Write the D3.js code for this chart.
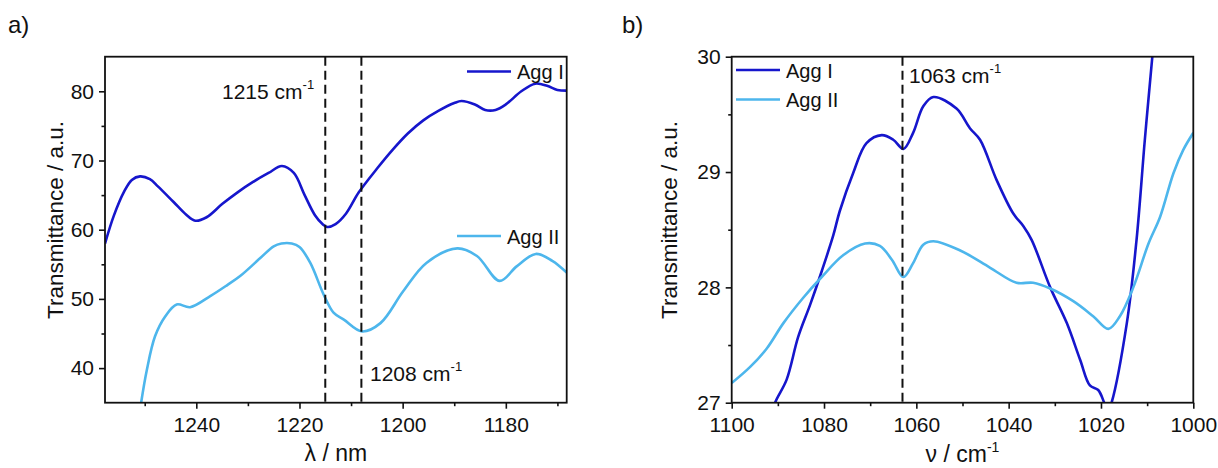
<!DOCTYPE html>
<html>
<head>
<meta charset="utf-8">
<script src="https://cdn.jsdelivr.net/npm/d3@7"></script>
<style>
  body { margin: 0; background: #fff; }
  text { font-family: Arial, "Liberation Sans", sans-serif; fill: #111; }
</style>
</head>
<body>
<div id="root"></div>
<script>
// ---- panel a: NIR, wavelength (nm) ----
var wlAggI = [1257.7, 1256, 1254, 1252.5, 1250.9, 1249, 1247.5, 1244.4, 1242, 1240.2, 1238, 1235, 1232, 1229, 1226, 1223.4, 1221.1, 1219, 1217, 1215.5, 1214.6, 1213, 1211, 1208.5, 1205, 1202, 1199, 1196, 1193, 1190, 1188.6, 1186, 1184, 1182, 1180, 1177, 1174.3, 1172, 1170, 1168.2];
var tAggI_a = [58.0, 62.0, 65.5, 67.2, 67.7, 67.3, 66.3, 64.0, 62.2, 61.3, 61.8, 63.7, 65.4, 66.9, 68.2, 69.2, 68.2, 65.0, 62.1, 60.8, 60.4, 60.8, 62.3, 65.4, 68.8, 71.5, 73.9, 75.8, 77.2, 78.3, 78.6, 78.1, 77.3, 77.3, 78.1, 80.0, 81.1, 80.8, 80.2, 80.1];

var wlAggII = [1250.7, 1249.6, 1248.0, 1246.0, 1243.8, 1241.2, 1237.3, 1234, 1231.5, 1227.6, 1225.0, 1223.5, 1221.5, 1220, 1217.9, 1215.3, 1213.4, 1211.4, 1207.9, 1204.3, 1199.9, 1195.4, 1189.4, 1185.6, 1181.2, 1177.9, 1174.2, 1171, 1168.2];
var tAggII_a = [35, 39.7, 44.6, 47.5, 49.2, 48.8, 50.4, 52.0, 53.3, 55.9, 57.6, 58.0, 58.0, 57.5, 55.2, 50.6, 48.0, 47.0, 45.3, 46.5, 51.1, 55.2, 57.3, 56.2, 52.6, 54.7, 56.5, 55.5, 53.8];

var xTicksA = [1240, 1220, 1200, 1180];
var xMinorA = [1250, 1230, 1210, 1190, 1170];
var yTicksA = [40, 50, 60, 70, 80];
var yMinorA = [45, 55, 65, 75];
var marksA = [1215, 1208];

// ---- panel b: IR, wavenumber (cm-1) ----
var nuAggI = [1091.2, 1090.6, 1088.1, 1085.6, 1083.0, 1080.5, 1078.0, 1076.6, 1073.7, 1070.8, 1067.5, 1065.0, 1062.8, 1060.7, 1058.5, 1056.3, 1051.3, 1048.4, 1046.2, 1042.6, 1039.0, 1036.8, 1035.0, 1031.0, 1027.4, 1024.5, 1022.4, 1020.6, 1019.3, 1018.5, 1017.7, 1014.4, 1012.3, 1010.5, 1008.9, 1008.2];
var tAggI_b = [26.9, 27.0, 27.2, 27.57, 27.85, 28.14, 28.45, 28.66, 28.99, 29.25, 29.32, 29.28, 29.20, 29.34, 29.57, 29.65, 29.55, 29.38, 29.28, 28.93, 28.64, 28.53, 28.41, 28.0, 27.69, 27.37, 27.15, 27.11, 27.0, 26.92, 27.0, 27.69, 28.41, 29.28, 29.99, 30.3];

var nuAggII = [1100, 1096.0, 1092.4, 1088.8, 1084.5, 1080.5, 1075.8, 1071.1, 1067.9, 1065.3, 1062.8, 1060.7, 1058.5, 1056.3, 1050.5, 1044.0, 1038.3, 1034.7, 1031.0, 1026.0, 1021.7, 1018.4, 1015.9, 1013.0, 1009.7, 1007.2, 1004.3, 1002.2, 1000];
var tAggII_b = [27.17, 27.31, 27.47, 27.69, 27.91, 28.09, 28.28, 28.38, 28.36, 28.24, 28.09, 28.21, 28.37, 28.40, 28.32, 28.17, 28.04, 28.04, 27.99, 27.88, 27.75, 27.64, 27.75, 28.0, 28.38, 28.61, 28.99, 29.19, 29.34];

var xTicksB = [1100, 1080, 1060, 1040, 1020, 1000];
var xMinorB = [1090, 1070, 1050, 1030, 1010];
var yTicksB = [27, 28, 29, 30];
var yMinorB = [27.5, 28.5, 29.5];
var marksB = [1063];

var colI = "#1616cc", colII = "#4db6ec";

var svg = d3.select("#root").append("svg")
  .attr("width", 1218).attr("height", 468);

function panel(o) {
  var x = d3.scaleLinear().domain(o.xDom).range([o.left, o.right]);
  var y = d3.scaleLinear().domain(o.yDom).range([o.bottom, o.top]);
  var g = svg.append("g");

  g.append("clipPath").attr("id", o.id)
    .append("rect").attr("x", o.left).attr("y", o.top)
    .attr("width", o.right - o.left).attr("height", o.bottom - o.top);

  var line = d3.line().curve(d3.curveCatmullRom.alpha(0.5))
    .x(d => x(d[0])).y(d => y(d[1]));

  o.series.forEach(function(s) {
    g.append("path").datum(d3.zip(s.x, s.y))
      .attr("clip-path", "url(#" + o.id + ")")
      .attr("fill", "none").attr("stroke", s.color)
      .attr("stroke-width", 2.6).attr("stroke-linejoin", "round")
      .attr("d", line);
  });

  o.marks.forEach(function(m) {
    g.append("line")
      .attr("x1", x(m)).attr("x2", x(m))
      .attr("y1", o.top).attr("y2", o.bottom)
      .attr("stroke", "#111").attr("stroke-width", 2)
      .attr("stroke-dasharray", "9,5");
  });

  // axes
  var fmt = d3.format("d");
  g.append("g").attr("transform", "translate(0," + o.bottom + ")")
    .call(d3.axisBottom(x).tickValues(o.xTicks).tickFormat(fmt).tickSize(6).tickSizeOuter(0).tickPadding(8));
  g.append("g").attr("transform", "translate(0," + o.bottom + ")")
    .call(d3.axisBottom(x).tickValues(o.xMinor).tickSize(3.5).tickSizeOuter(0).tickFormat(""));
  g.append("g").attr("transform", "translate(" + o.left + ",0)")
    .call(d3.axisLeft(y).tickValues(o.yTicks).tickFormat(fmt).tickSize(6).tickSizeOuter(0).tickPadding(5));
  g.append("g").attr("transform", "translate(" + o.left + ",0)")
    .call(d3.axisLeft(y).tickValues(o.yMinor).tickSize(3.5).tickSizeOuter(0).tickFormat(""));

  g.selectAll(".domain").remove();
  g.selectAll(".tick line").attr("stroke", "#111").attr("stroke-width", 1.6);
  g.selectAll(".tick text").attr("font-size", 21).attr("fill", "#111")
    .style("font-family", "Arial, 'Liberation Sans', sans-serif");

  g.append("rect").attr("x", o.left).attr("y", o.top)
    .attr("width", o.right - o.left).attr("height", o.bottom - o.top)
    .attr("fill", "none").attr("stroke", "#111").attr("stroke-width", 1.8);

  // titles
  g.append("text").attr("transform", "translate(" + o.yTitleX + ",220) rotate(-90)")
    .attr("text-anchor", "middle").attr("font-size", 22.5).text("Transmittance / a.u.");
  var xt = g.append("text").attr("x", (o.left + o.right) / 2).attr("y", o.xTitleY)
    .attr("text-anchor", "middle").attr("font-size", 23);
  xt.append("tspan").text(o.xTitle);
  if (o.xTitleSup) xt.append("tspan").attr("font-size", 14).attr("dy", -10).text(o.xTitleSup);

  g.append("text").attr("x", o.tagX).attr("y", 33).attr("font-size", 24).text(o.tag);

  // annotations
  o.notes.forEach(function(n) {
    var t = g.append("text").attr("x", n.x).attr("y", n.y).attr("font-size", 21);
    t.append("tspan").text(n.text + " cm");
    t.append("tspan").attr("font-size", 13).attr("dy", -10).text("-1");
  });

  // legend
  o.legend.forEach(function(l) {
    g.append("line").attr("x1", l.x).attr("x2", l.x + 44)
      .attr("y1", l.y).attr("y2", l.y)
      .attr("stroke", l.color).attr("stroke-width", 2.6);
    g.append("text").attr("x", l.x + 50).attr("y", l.y + 7.5)
      .attr("font-size", 20).text(l.label);
  });
}

panel({
  id: "clipA", left: 105, right: 566.7, top: 56.7, bottom: 402.7,
  xDom: [1257.7, 1168.2], yDom: [35, 85],
  xTicks: xTicksA, xMinor: xMinorA, yTicks: yTicksA, yMinor: yMinorA,
  series: [
    { x: wlAggI, y: tAggI_a, color: colI },
    { x: wlAggII, y: tAggII_a, color: colII }
  ],
  marks: marksA,
  yTitleX: 63, xTitleY: 461, xTitle: "\u03bb / nm",
  tag: "a)", tagX: 8,
  notes: [
    { text: "1215", x: 222, y: 99 },
    { text: "1208", x: 370, y: 381 }
  ],
  legend: [
    { label: "Agg I", x: 467, y: 71.5, color: colI },
    { label: "Agg II", x: 457, y: 236, color: colII }
  ]
});

panel({
  id: "clipB", left: 731.7, right: 1193.3, top: 56.7, bottom: 402.7,
  xDom: [1100, 1000], yDom: [27, 30],
  xTicks: xTicksB, xMinor: xMinorB, yTicks: yTicksB, yMinor: yMinorB,
  series: [
    { x: nuAggI, y: tAggI_b, color: colI },
    { x: nuAggII, y: tAggII_b, color: colII }
  ],
  marks: marksB,
  yTitleX: 677, xTitleY: 462, xTitle: "\u03bd / cm", xTitleSup: "-1",
  tag: "b)", tagX: 622,
  notes: [
    { text: "1063", x: 909, y: 83 }
  ],
  legend: [
    { label: "Agg I", x: 736, y: 70, color: colI },
    { label: "Agg II", x: 736, y: 99.5, color: colII }
  ]
});
</script>
</body>
</html>
